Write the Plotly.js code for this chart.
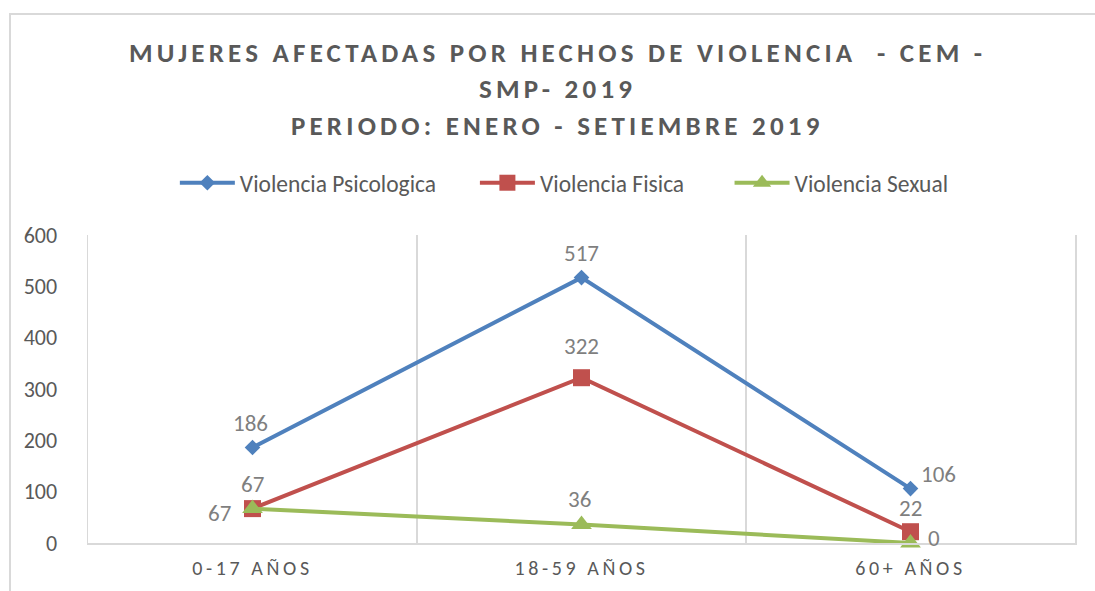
<!DOCTYPE html>
<html>
<head>
<meta charset="utf-8">
<script src="https://cdn.plot.ly/plotly-3.0.1.min.js"></script>
<style>
  html, body { margin: 0; padding: 0; background: #fff; }
  #wrap { position: relative; width: 1095px; height: 591px; overflow: hidden; }
  #chart { position: absolute; left: 0; top: 0; width: 1095px; height: 591px; }
  #frame { position: absolute; left: 9px; top: 13px; width: 1120px; height: 620px; border: 2px solid #d9d9d9; pointer-events: none; }
  .xtick text { letter-spacing: 3.6px; }
  .annotation[data-index="0"] .annotation-text,
  .annotation[data-index="1"] .annotation-text,
  .annotation[data-index="2"] .annotation-text { letter-spacing: 4.2px; }
</style>
</head>
<body>
<div id="wrap">
  <div id="chart"></div>
  <div id="frame"></div>
</div>
<script>
const categories = ["0-17 AÑOS", "18-59 AÑOS", "60+ AÑOS"];
const psicologica = [186, 517, 106];
const fisica = [67, 322, 22];
const sexual = [67, 36, 0];
const seriesNames = ["Violencia Psicologica", "Violencia Fisica", "Violencia Sexual"];
const titleLines = [
  "MUJERES AFECTADAS POR HECHOS DE VIOLENCIA  - CEM -",
  "SMP- 2019",
  "PERIODO: ENERO - SETIEMBRE 2019"
];

const FONT = "Carlito, 'Liberation Sans Narrow', 'Noto Sans', sans-serif";
const GRAY = "#595959";
const LABEL = "#7f7f7f";

// pixel offsets of each data label relative to its point [dx, dy(up)]
const labelOffsets = [
  [[-2, 25], [0, 25], [28, 15]],
  [[0, 25], [0, 32], [0, 24]],
  [[-33, -4], [-2, 26], [23, 5]]
];

function series(y, name, legendId, color, symbol, size) {
  return {
    type: "scatter",
    mode: "lines+markers",
    x: categories,
    y: y,
    name: name,
    legend: legendId,
    line: { color: color, width: 4 },
    marker: { color: color, symbol: symbol, size: size },
    cliponaxis: false
  };
}

const allSeries = [psicologica, fisica, sexual];
const data = [
  series(psicologica, seriesNames[0], "legend", "#4f81bd", "diamond", 12),
  series(fisica, seriesNames[1], "legend2", "#c0504d", "square", 17),
  series(sexual, seriesNames[2], "legend3", "#9bbb59", "triangle-up", 18)
];

const titleY = [1.594, 1.477, 1.357];
const annotations = titleLines.map((t, i) => ({
  text: "<b>" + t + "</b>",
  xref: "paper", yref: "paper",
  x: 0.476, y: titleY[i],
  xanchor: "center", yanchor: "middle",
  showarrow: false,
  font: { family: FONT, size: 27, color: GRAY }
}));

allSeries.forEach((vals, s) => {
  vals.forEach((v, i) => {
    annotations.push({
      text: String(v),
      xref: "x", yref: "y",
      x: categories[i], y: v,
      xanchor: "center", yanchor: "middle",
      xshift: labelOffsets[s][i][0],
      yshift: labelOffsets[s][i][1],
      showarrow: false,
      font: { family: FONT, size: 23, color: LABEL }
    });
  });
});

function legendAt(x) {
  return {
    orientation: "h",
    x: x, xanchor: "left",
    y: 1.169, yanchor: "middle",
    font: { family: FONT, size: 23.5, color: GRAY },
    itemwidth: 55,
    bgcolor: "rgba(0,0,0,0)"
  };
}

const layout = {
  width: 1095,
  height: 591,
  margin: { l: 88, r: 20, t: 235, b: 48 },
  paper_bgcolor: "rgba(0,0,0,0)",
  plot_bgcolor: "rgba(0,0,0,0)",
  font: { family: FONT, color: GRAY },
  showlegend: true,
  legend: legendAt(0.088),
  legend2: legendAt(0.392),
  legend3: legendAt(0.650),
  xaxis: {
    type: "category",
    range: [-0.5, 2.5],
    tickson: "boundaries",
    showgrid: true,
    gridcolor: "#d9d9d9",
    gridwidth: 1.5,
    showline: true,
    linecolor: "#d9d9d9",
    linewidth: 1.5,
    ticks: "",
    zeroline: false,
    tickfont: { family: FONT, size: 20, color: GRAY },
    ticklabelstandoff: 6,
    fixedrange: true
  },
  yaxis: {
    range: [0, 600],
    dtick: 100,
    showgrid: false,
    showline: true,
    mirror: true,
    linecolor: "#d9d9d9",
    linewidth: 1.5,
    zeroline: false,
    ticks: "",
    tickfont: { family: FONT, size: 22, color: GRAY },
    ticklabelstandoff: 25,
    fixedrange: true
  },
  annotations: annotations
};

Plotly.newPlot("chart", data, layout, { displayModeBar: false, staticPlot: true });
</script>
</body>
</html>
